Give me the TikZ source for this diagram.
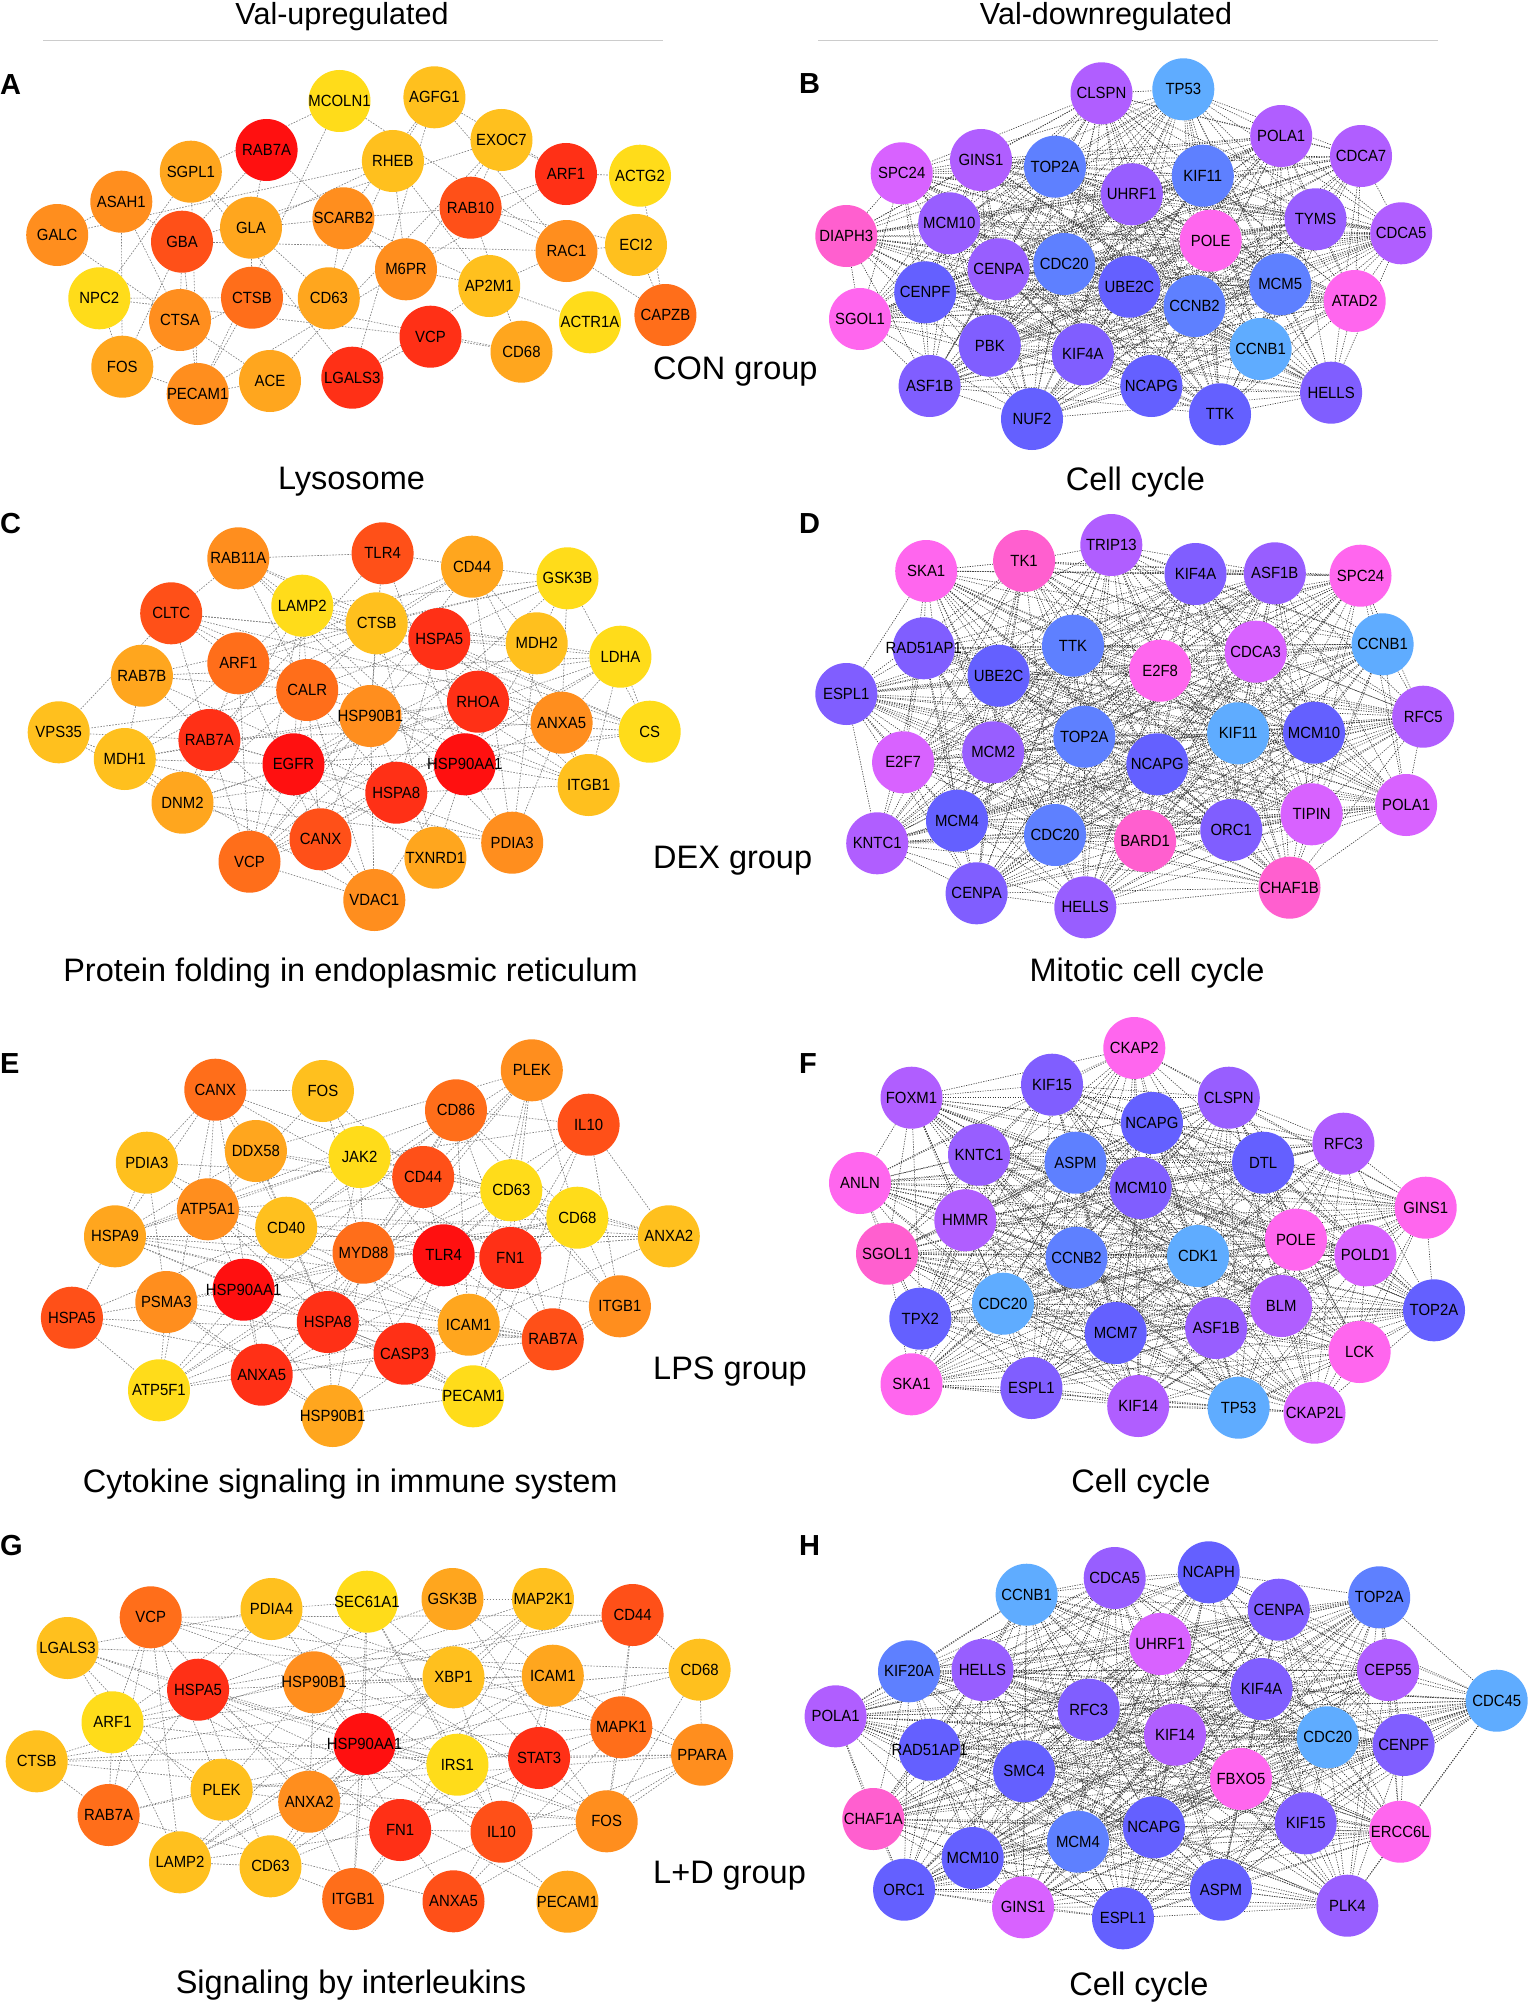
\documentclass[tikz,border=0pt]{standalone}
\usepackage{fontspec}
\setmainfont{Liberation Sans}
\newfontfamily\lblfamily[FakeStretch=0.92]{Liberation Sans}
\newcommand\lblfont{\lblfamily\fontsize{16.2}{17}\selectfont}
\newcommand\bigfont{\fontsize{32.5}{34}\selectfont}
\newcommand\ttlfont{\fontsize{30.5}{32}\selectfont}
\newcommand\letfont{\bfseries\fontsize{29}{30}\selectfont}
\usetikzlibrary{backgrounds}
\definecolor{o1}{HTML}{FF1010}
\definecolor{o2}{HTML}{FF3016}
\definecolor{o3}{HTML}{FF5018}
\definecolor{o4}{HTML}{FF6E1A}
\definecolor{o5}{HTML}{FF8E1E}
\definecolor{o6}{HTML}{FFA61E}
\definecolor{o7}{HTML}{FFC01E}
\definecolor{o8}{HTML}{FFDC1A}
\definecolor{v1}{HTML}{FF5FCF}
\definecolor{v2}{HTML}{FF66EE}
\definecolor{v3}{HTML}{D862FF}
\definecolor{v4}{HTML}{B05EFF}
\definecolor{v5}{HTML}{985EFF}
\definecolor{v6}{HTML}{805EFF}
\definecolor{v7}{HTML}{6460FF}
\definecolor{v8}{HTML}{5E80FF}
\definecolor{v9}{HTML}{5FACFF}
\definecolor{rulegray}{HTML}{CCCCCC}
\tikzset{
  gn/.style={circle, minimum size=62pt, inner sep=0pt, draw=none, fill=#1, font=\lblfont, text=black},
  edgeor/.style={draw=black!50, line width=0.65pt, dash pattern=on 1.6pt off 1.4pt},
  edgebl/.style={draw=black!78, line width=0.6pt, dash pattern=on 1.2pt off 1.3pt},
  bigtxt/.style={font=\bigfont, text=black, inner sep=0pt},
  ttltxt/.style={font=\ttlfont, text=black, inner sep=0pt},
  lettxt/.style={font=\letfont, text=black, inner sep=0pt, anchor=base west},
  rulel/.style={draw=rulegray, line width=1.4pt}
}
\newcommand\netnodes[3]{%
  \foreach \na/\xa/\ya/\ca in #2 {\node[gn=#3\ca] (#1\na) at (\xa,\ya) {\makebox[0pt]{\na}};}%
}
\newcommand\netedges[5]{%
  \foreach \na/\xa/\ya/\ca [count=\ia] in #2 {%
    \foreach \nb/\xb/\yb/\cb [count=\ib] in #2 {%
      \ifnum\ib>\ia\relax
        \pgfmathsetmacro\dd{veclen(\xa-\xb,\ya-\yb)}%
        \pgfmathsetmacro\pp{(\dd<170) ? #3 : #4}%
        \pgfmathrandominteger{\rr}{0}{99}%
        \ifdim\rr pt<\pp pt\relax
          \draw[#5] (#1\na) -- (#1\nb);%
        \fi
      \fi
    }%
  }%
}
\def\listA{MCOLN1/339.5/101/8,AGFG1/434.4/97.3/7,EXOC7/501.5/140/7,RAB7A/266.6/150/1,RHEB/392.9/161/7,ARF1/566/174/2,ACTG2/640/175.7/8,SGPL1/190.8/171.7/6,ASAH1/121.3/201.7/5,GALC/57.2/235/5,GBA/182/241.7/3,GLA/251/227.7/6,SCARB2/343.4/218.3/5,RAB10/470.6/207.7/3,RAC1/566.5/251/5,ECI2/636/245/7,M6PR/406/269.3/5,AP2M1/489.2/286/7,NPC2/99.3/298.3/8,CTSB/252/297.7/4,CD63/328.8/298.3/6,CTSA/180/320/5,ACTR1A/590/322.3/8,CAPZB/665.4/315/4,VCP/430.5/336.7/2,CD68/521.5/351.7/6,FOS/122.3/366.7/6,PECAM1/197.7/394/5,ACE/270/381/6,LGALS3/352.3/377.7/2}
\def\listC{RAB11A/238.3/558.3/5,TLR4/382.6/553.3/3,CD44/472.1/566.7/6,GSK3B/567.5/578.3/8,LAMP2/302.3/605.7/8,CLTC/171.2/613.3/3,CTSB/376.7/623.3/7,HSPA5/439.3/639/2,MDH2/536.7/643.3/7,LDHA/620.4/656.7/8,ARF1/238.3/663.3/4,RAB7B/141.9/675.7/6,CALR/307.2/690/4,RHOA/478/701.7/2,HSP90B1/370.4/716/5,ANXA5/561.6/722.7/5,CS/649.7/731.7/8,VPS35/58.7/732.3/7,RAB7A/209.4/740/2,MDH1/124.8/759/7,EGFR/293.5/764.3/1,HSP90AA1/464.8/764.3/1,HSPA8/396.3/792.7/2,ITGB1/588.6/785/7,DNM2/182.5/802.7/6,CANX/320.5/839.3/3,PDIA3/512.2/842.7/5,VCP/249.5/861.7/4,TXNRD1/435.4/857.7/6,VDAC1/374.3/900/5}
\def\listE{CANX/215.3/1089.7/4,FOS/322.9/1091/7,PLEK/531.8/1070.3/5,CD86/456/1110.3/4,IL10/588.6/1124.7/3,PDIA3/146.8/1162.7/7,DDX58/255.9/1151/6,JAK2/359.6/1157/8,CD44/423.2/1177/3,CD63/511.3/1190.3/8,ATP5A1/207.9/1209.3/5,CD40/286.2/1227.7/7,CD68/577.3/1217.7/8,ANXA2/668.8/1236.3/7,HSPA9/115/1236.3/6,MYD88/363.5/1252.7/4,TLR4/443.7/1255.3/1,FN1/510.3/1258/2,HSP90AA1/243.6/1289.7/1,PSMA3/166.3/1302/5,HSPA5/71.9/1317.7/3,HSPA8/327.8/1322/2,ICAM1/468.7/1324.7/6,ITGB1/619.9/1306.3/5,RAB7A/552.8/1339.3/3,CASP3/404.6/1353.7/2,ANXA5/261.7/1374.7/2,ATP5F1/159/1390.3/8,HSP90B1/332.7/1416/6,PECAM1/473.1/1396.3/8}
\def\listG{VCP/150.7/1617.3/4,PDIA4/271.5/1609/7,SEC61A1/366.9/1601.7/8,GSK3B/452.5/1599/6,MAP2K1/543/1599/7,CD44/632.6/1615/3,LGALS3/67.5/1648/7,CD68/699.6/1669.7/7,HSPA5/198.1/1689.7/2,HSP90B1/314.1/1682.3/5,XBP1/453.5/1677.3/7,ICAM1/552.8/1675.7/6,ARF1/112.5/1722.3/8,MAPK1/621.3/1727.3/4,HSP90AA1/364.5/1744/1,STAT3/539.1/1758/2,PPARA/702.1/1754.7/5,CTSB/36.7/1761.3/7,IRS1/457.4/1764.7/8,PLEK/221.6/1789.7/7,ANXA2/309.2/1801.7/5,RAB7A/108.6/1815/4,FN1/400.2/1830/2,IL10/501.5/1831.7/3,FOS/606.7/1821.3/5,LAMP2/180/1862.3/7,CD63/270.5/1866.3/7,ITGB1/353.2/1899/4,ANXA5/453.5/1901.3/3,PECAM1/567.5/1901.7/6}
\def\listB{CLSPN/1101.5/93.3/4,TP53/1183.3/89.3/9,POLA1/1281.2/136/4,CDCA7/1361/156/4,SPC24/901.7/173.3/3,GINS1/981/160/4,TOP2A/1055/166.7/8,UHRF1/1131.8/194.3/5,KIF11/1202.8/175.7/8,TYMS/1315.5/219.3/5,CDCA5/1401.2/233.3/4,DIAPH3/846.3/236/1,MCM10/949.2/223.3/5,POLE/1210.7/240.7/2,CENPA/998.6/269.3/5,CDC20/1064.3/264/8,UBE2C/1129.4/286.7/7,CCNB2/1194.5/306/8,MCM5/1280.2/284.3/8,ATAD2/1354.7/301/2,CENPF/925.2/292.3/7,SGOL1/860/319/2,PBK/989.8/345.7/6,KIF4A/1082.9/354.3/6,CCNB1/1260.6/349/9,ASF1B/929.6/386/6,NCAPG/1151.4/386/7,HELLS/1331.1/392.7/6,NUF2/1032/419/7,TTK/1220/414.3/7}
\def\listD{SKA1/926.2/571/2,TK1/1024.1/561/1,TRIP13/1111.3/545/4,KIF4A/1195.5/574/6,ASF1B/1274.8/573.3/5,SPC24/1360.5/575.7/2,RAD51AP1/923.7/648.3/6,TTK/1073/645.7/8,E2F8/1160.2/670.7/2,CDCA3/1255.7/651.7/3,CCNB1/1382.6/644.3/9,UBE2C/998.6/675.7/7,ESPL1/846.3/694/6,RFC5/1423.2/716.7/4,KIF11/1238.1/733.3/9,MCM10/1314/732.7/7,TOP2A/1084.3/736.7/8,E2F7/903.1/762.3/3,MCM2/993.2/752.3/5,NCAPG/1157.3/764.3/7,POLA1/1406.1/805/3,TIPIN/1311.6/814.3/3,MCM4/957/820.7/7,CDC20/1055/835/8,BARD1/1145.1/841/1,ORC1/1231.3/830/6,KNTC1/877.2/843.3/4,CHAF1B/1289.5/887.7/1,CENPA/976.6/893.3/6,HELLS/1085.3/907.3/5}
\def\listF{CKAP2/1134.3/1048/2,FOXM1/911.5/1097.7/4,KIF15/1052/1084.7/6,CLSPN/1228.8/1097.7/5,NCAPG/1151.9/1123/7,KNTC1/979/1154.7/5,ASPM/1075.5/1162.7/8,DTL/1263.1/1162.7/7,RFC3/1343.4/1143.7/4,MCM10/1140.7/1188/6,ANLN/860/1183/2,GINS1/1425.7/1207.7/2,HMMR/965.3/1220.3/4,SGOL1/887/1253.7/1,CCNB2/1076.5/1257.7/8,CDK1/1198/1256/9,POLE/1295.9/1239.7/2,POLD1/1365.4/1255.3/3,CDC20/1003/1303.7/9,TPX2/920.3/1318.7/7,BLM/1281.2/1306/4,TOP2A/1434/1310.3/7,MCM7/1115.7/1333/7,ASF1B/1216.1/1328/5,LCK/1359.6/1352/2,SKA1/911.5/1384.3/2,ESPL1/1031.4/1388/6,KIF14/1138.2/1406/4,TP53/1238.6/1407.7/9,CKAP2L/1314.5/1412.7/3}
\def\listH{CCNB1/1026.6/1594.7/9,CDCA5/1114.7/1578/5,NCAPH/1208.7/1572.3/7,CENPA/1278.8/1609.7/6,TOP2A/1379.2/1597.3/8,UHRF1/1160.2/1644/3,KIF20A/909/1671.3/8,HELLS/982.5/1670/5,CEP55/1388/1670/4,KIF4A/1261.6/1689/6,CDC45/1496.7/1700.7/9,POLA1/835.6/1716.3/4,RFC3/1088.7/1709.7/6,KIF14/1175/1734.7/4,CDC20/1327.7/1737.3/9,CENPF/1403.6/1745/6,RAD51AP1/929.6/1749.7/7,SMC4/1024.1/1771.3/7,FBXO5/1241/1779/2,CHAF1A/873.3/1819/1,KIF15/1305.7/1823.3/6,ERCC6L/1400.2/1831.7/2,NCAPG/1153.9/1827.3/7,MCM4/1078/1841.7/8,MCM10/972.7/1858/7,ORC1/904.1/1889.7/7,GINS1/1023.1/1907.3/3,ESPL1/1123/1918.3/7,ASPM/1221/1889.7/7,PLK4/1347.3/1905.7/5}
\begin{document}
\begin{tikzpicture}[x=1pt,y=-1pt]
\useasboundingbox (0,0) rectangle (1535,2007);
\pgfmathsetseed{4242}
% headers
\node[ttltxt, anchor=base] (hup) at (342,25) {Val-upregulated};
\node[ttltxt, anchor=base] (hdown) at (1106,25) {Val-downregulated};
\coordinate (rl1) at (43,40.7); \coordinate (rl2) at (663,40.7);
\coordinate (rr1) at (818,40.7); \coordinate (rr2) at (1438,40.7);
\draw[rulel] (rl1) -- (rl2);
\draw[rulel] (rr1) -- (rr2);
% panel letters
\node[lettxt] (LA) at (0,95) {A};
\node[lettxt] (LB) at (798.8,93.3) {B};
\node[lettxt] (LC) at (0,533.3) {C};
\node[lettxt] (LD) at (798.8,533.3) {D};
\node[lettxt] (LE) at (0,1073.7) {E};
\node[lettxt] (LF) at (798.8,1073.7) {F};
\node[lettxt] (LG) at (0,1555.7) {G};
\node[lettxt] (LH) at (798.8,1555.7) {H};
% captions
\node[bigtxt, anchor=base] (capA) at (351.5,489) {Lysosome};
\node[bigtxt, anchor=base] (capB) at (1135.5,490) {Cell cycle};
\node[bigtxt, anchor=base] (capC) at (350.5,981.7) {Protein folding in endoplasmic reticulum};
\node[bigtxt, anchor=base] (capD) at (1147,981.7) {Mitotic cell cycle};
\node[bigtxt, anchor=base] (capE) at (350.3,1492) {Cytokine signaling in immune system};
\node[bigtxt, anchor=base] (capF) at (1141,1492) {Cell cycle};
\node[bigtxt, anchor=base] (capG) at (351,1993.3) {Signaling by interleukins};
\node[bigtxt, anchor=base] (capH) at (1139,1995) {Cell cycle};
\node[bigtxt, anchor=base west] (grp1) at (653,379.3) {CON group};
\node[bigtxt, anchor=base west] (grp2) at (653,868.3) {DEX group};
\node[bigtxt, anchor=base west] (grp3) at (653,1379.7) {LPS group};
\node[bigtxt, anchor=base west] (grp4) at (653,1883.3) {L+D group};
% networks
\netnodes{A}{\listA}{o}
\netnodes{C}{\listC}{o}
\netnodes{E}{\listE}{o}
\netnodes{G}{\listG}{o}
\netnodes{B}{\listB}{v}
\netnodes{D}{\listD}{v}
\netnodes{F}{\listF}{v}
\netnodes{H}{\listH}{v}
\begin{pgfonlayer}{background}
\fill[white] (0,0) rectangle (1535,2007);
\netedges{A}{\listA}{32}{5}{edgeor}
\netedges{C}{\listC}{58}{20}{edgeor}
\netedges{E}{\listE}{58}{20}{edgeor}
\netedges{G}{\listG}{52}{17}{edgeor}
\netedges{B}{\listB}{100}{90}{edgebl}
\netedges{D}{\listD}{100}{90}{edgebl}
\netedges{F}{\listF}{100}{85}{edgebl}
\netedges{H}{\listH}{100}{90}{edgebl}
\end{pgfonlayer}
\end{tikzpicture}
\end{document}
